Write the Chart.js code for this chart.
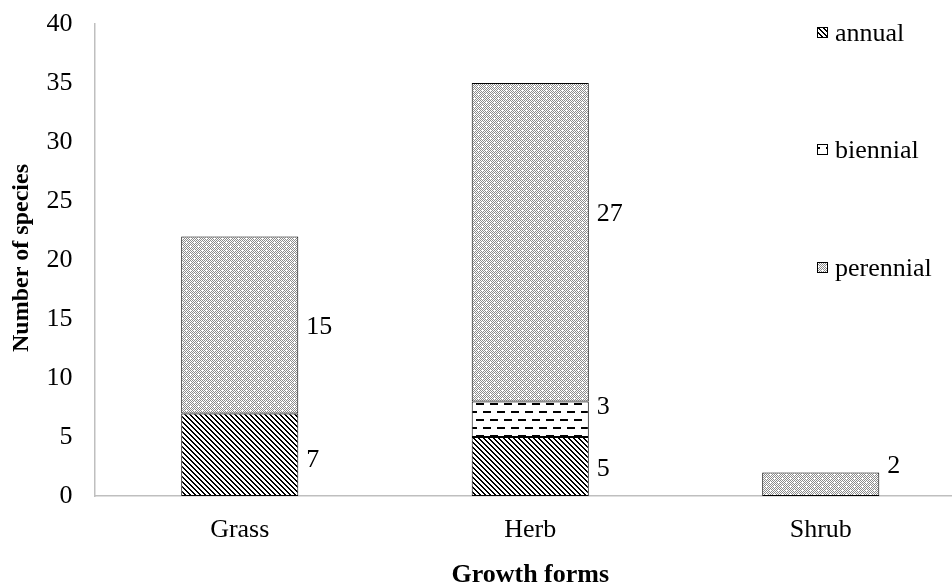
<!DOCTYPE html>
<html>
<head>
<meta charset="utf-8">
<script src="https://cdn.jsdelivr.net/npm/chart.js@4/dist/chart.umd.min.js"></script>
<style>
html,body{margin:0;padding:0;background:#fff;overflow:hidden;}
#wrap{width:966px;height:586px;position:relative;}
</style>
</head>
<body>
<div id="wrap"><canvas id="c"></canvas></div>
<script>
// ---- data ----
const categories = ['Grass', 'Herb', 'Shrub'];
const annual = [7, 5, null];
const biennial = [null, 3, null];
const perennial = [15, 27, 2];
const seriesNames = ['annual', 'biennial', 'perennial'];
const yTicks = [0, 5, 10, 15, 20, 25, 30, 35, 40];
// where each value label sits (in axis units)
const annualLabelAt = [3, 2.3, null];
const biennialLabelAt = [null, 7.5, null];
const perennialLabelAt = [14.3, 23.9, 2.5];

const FONT = '"Liberation Serif", "Times New Roman", serif';
const FS = 26;

function makePattern(w, h, draw) {
  const c = document.createElement('canvas');
  c.width = w; c.height = h;
  const x = c.getContext('2d');
  x.fillStyle = '#fff'; x.fillRect(0, 0, w, h);
  draw(x);
  return x.createPattern(c, 'repeat');
}
const annualPat = makePattern(5, 5, x => {
  x.fillStyle = '#000';
  for (let y = 0; y < 5; y++) { x.fillRect(y % 5, y, 1, 1); x.fillRect((y + 1) % 5, y, 1, 1); }
});
const biennialPat = makePattern(14, 16, x => {
  x.fillStyle = '#000';
  x.fillRect(0, 3, 8, 2);
  x.fillRect(7, 11, 7, 2); x.fillRect(0, 11, 1, 2);
});
const perennialPat = makePattern(8, 8, x => {
  x.fillStyle = '#8c8c8c';
  for (let y = 0; y < 8; y++) for (let i = 0; i < 8; i++) {
    if ((i + y) % 2 === 0) x.fillRect(i, y, 1, 1);
  }
  x.fillStyle = '#fff';
  x.fillRect(2, 2, 1, 1); x.fillRect(6, 6, 1, 1);
});
const patterns = [annualPat, biennialPat, perennialPat];
const labelAts = [annualLabelAt, biennialLabelAt, perennialLabelAt];

const labelPlugin = {
  id: 'extras',
  afterDatasetsDraw(chart) {
    const ctx = chart.ctx;
    ctx.save();
    ctx.fillStyle = '#000';
    ctx.font = FS + 'px ' + FONT;
    ctx.textAlign = 'left';
    ctx.textBaseline = 'middle';
    const ys = chart.scales.y;
    chart.data.datasets.forEach((ds, di) => {
      const meta = chart.getDatasetMeta(di);
      meta.data.forEach((bar, i) => {
        const v = ds.data[i];
        if (v == null) return;
        const right = bar.x + bar.width / 2;
        const at = labelAts[di][i];
        ctx.fillText(String(v), right + 8, ys.getPixelForValue(at));
      });
    });
    // legend
    const legendY = [33, 150, 268];
    seriesNames.forEach((n, i) => {
      const y = legendY[i];
      ctx.fillStyle = patterns[i];
      ctx.fillRect(817, y - 6, 11, 11);
      ctx.strokeStyle = '#000';
      ctx.lineWidth = 1;
      ctx.strokeRect(817.5, y - 5.5, 10, 10);
      ctx.fillStyle = '#000';
      ctx.fillText(n, 835, y + 1);
    });
    // axis titles
    const ca = chart.chartArea;
    ctx.font = 'bold ' + FS + 'px ' + FONT;
    ctx.textAlign = 'center';
    ctx.fillText('Growth forms', (ca.left + ca.right) / 2, 575);
    ctx.font = 'bold 24px ' + FONT;
    ctx.translate(22, 258);
    ctx.rotate(-Math.PI / 2);
    ctx.fillText('Number of species', 0, 0);
    ctx.restore();
  }
};

new Chart(document.getElementById('c'), {
  type: 'bar',
  data: {
    labels: categories,
    datasets: [
      { label: seriesNames[0], data: annual, backgroundColor: annualPat },
      { label: seriesNames[1], data: biennial, backgroundColor: biennialPat },
      { label: seriesNames[2], data: perennial, backgroundColor: perennialPat }
    ].map(d => Object.assign(d, { borderColor: '#000', borderWidth: 1, borderSkipped: false, categoryPercentage: 1, barPercentage: 0.403 }))
  },
  options: {
    responsive: true,
    maintainAspectRatio: false,
    animation: false,
    layout: { padding: { top: 24, left: 0, right: 0, bottom: 0 } },
    plugins: { legend: { display: false }, tooltip: { enabled: false } },
    scales: {
      x: {
        stacked: true,
        grid: { display: false, drawTicks: false },
        border: { display: true, color: '#bfbfbf', width: 1.5 },
        ticks: { color: '#000', font: { family: FONT, size: FS }, padding: 19 },
        afterFit(s) { s.height = 90; s.paddingLeft = 0; s.paddingRight = 0; }
      },
      y: {
        stacked: true,
        min: 0, max: 40,
        afterBuildTicks(s) { s.ticks = yTicks.map(v => ({ value: v })); },
        grid: { display: false, drawTicks: false },
        border: { display: true, color: '#bfbfbf', width: 1.5 },
        ticks: { color: '#000', font: { family: FONT, size: FS }, padding: 22 },
        afterFit(s) { s.width = 94.5; s.paddingTop = 0; s.paddingBottom = 0; }
      }
    }
  },
  plugins: [labelPlugin]
});
</script>
</body>
</html>
